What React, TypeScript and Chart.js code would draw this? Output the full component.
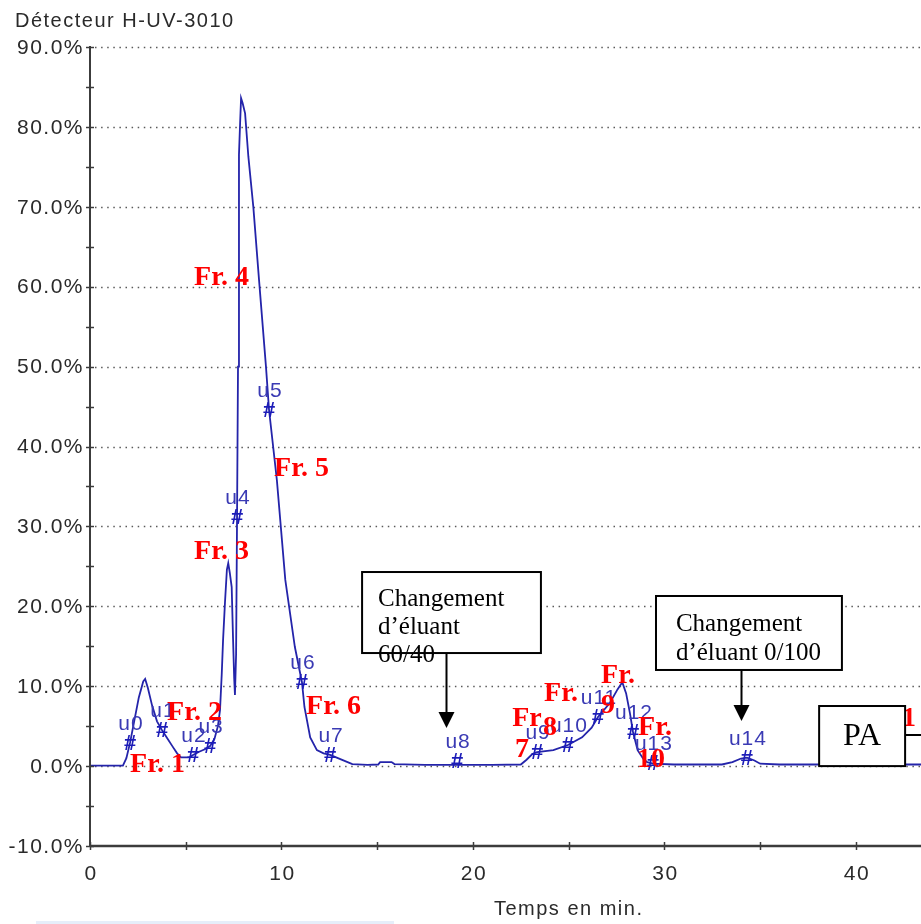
import React, { useEffect, useRef } from 'react';
import { Chart, registerables } from 'chart.js';
Chart.register(...registerables);

// ---- data ----
const timeMin = [0, 1.0, 1.72, 1.9, 2.09, 2.3, 2.55, 2.78, 2.88, 3.02, 3.24, 3.5, 3.76, 4.0, 4.3, 4.55, 4.75, 5.2, 5.38, 5.7, 6.0, 6.27, 6.5, 6.68, 6.79, 6.88, 6.95, 7.05, 7.15, 7.22, 7.3, 7.4, 7.47, 7.53, 7.57, 7.63, 7.68, 7.73, 7.78, 7.84, 7.89, 7.97, 8.1, 8.27, 8.53, 8.83, 9.19, 9.35, 9.76, 10.2, 10.7, 11.07, 11.2, 11.5, 11.85, 12.2, 12.54, 13.2, 13.7, 14.5, 15.05, 15.15, 15.75, 15.9, 17.5, 19.17, 21.0, 22.5, 22.8, 23.1, 23.35, 24.2, 24.96, 25.7, 26.2, 26.53, 27.15, 27.55, 27.8, 28.0, 28.2, 28.36, 28.6, 28.9, 29.1, 29.4, 30.5, 33.0, 33.55, 34.0, 34.31, 34.7, 35.0, 36.0, 43.4];
const signalPct = [0.05, 0.05, 0.05, 1.0, 2.9, 5.5, 8.6, 10.6, 10.9, 9.8, 7.6, 5.6, 4.5, 3.6, 2.5, 1.6, 1.1, 1.1, 1.4, 1.8, 2.1, 2.5, 3.4, 5.0, 7.0, 11.5, 15.8, 20.5, 24.6, 25.4, 24.2, 22.4, 16.0, 11.0, 8.9, 14.0, 31.2, 50.0, 76.5, 80.5, 83.6, 83.0, 81.7, 76.3, 70.0, 60.8, 50.0, 44.6, 35.8, 23.3, 14.9, 10.5, 7.4, 3.6, 2.0, 1.6, 1.4, 0.75, 0.25, 0.15, 0.2, 0.5, 0.5, 0.25, 0.15, 0.15, 0.15, 0.2, 0.8, 1.5, 1.76, 2.0, 2.64, 3.6, 4.8, 6.15, 7.9, 9.6, 10.5, 9.1, 6.6, 4.27, 2.0, 0.9, 0.5, 0.3, 0.2, 0.2, 0.5, 0.95, 1.05, 0.7, 0.3, 0.2, 0.2];

const markerLabels = ['u0', 'u1', 'u2', 'u3', 'u4', 'u5', 'u6', 'u7', 'u8', 'u9', 'u10', 'u11', 'u12', 'u13', 'u14'];
const markerTime = [2.09, 3.76, 5.38, 6.27, 7.68, 9.35, 11.07, 12.54, 19.17, 23.35, 24.96, 26.53, 28.36, 29.4, 34.31];
const markerPct = [2.89, 4.52, 1.39, 2.52, 31.18, 44.57, 10.53, 1.39, 0.6, 1.76, 2.64, 6.15, 4.27, 0.39, 1.0];

const fracLabels = ['Fr. 4', 'Fr. 3', 'Fr. 5', 'Fr. 2', 'Fr. 1', 'Fr. 6', 'Fr', '7', '8', 'Fr.', '9', 'Fr.', 'Fr.', '10', '1'];
const fracTime = [6.87, 6.87, 11.05, 5.46, 3.53, 12.72, 22.82, 22.56, 24.02, 24.6, 27.05, 27.58, 29.51, 29.3, 42.77];
const fracPct = [61.3, 26.9, 37.3, 6.83, 0.26, 7.52, 6.02, 2.14, 4.89, 9.14, 7.65, 11.4, 4.89, 0.89, 6.02];

const yTickValues = [-10, 0, 10, 20, 30, 40, 50, 60, 70, 80, 90];
const yMinorValues = [-5, 5, 15, 25, 35, 45, 55, 65, 75, 85];
const gridValues = [0, 10, 20, 30, 40, 50, 60, 70, 80, 90];
const xTickValues = [0, 10, 20, 30, 40];
const xMinorValues = [5, 15, 25, 35];

const titleText = 'Détecteur H-UV-3010';
const xAxisTitle = 'Temps en min.';

// annotation boxes (in data units: minutes / %)
const boxes = [
  { l: 14.21, r: 23.55, t: 24.29, b: 14.15, lines: ['Changement', 'd\u2019éluant', '60/40'], tx: 15.04, ty: [20.91, 17.41, 13.9], arrowX: 18.59, arrowTip: 4.77 },
  { l: 29.56, r: 39.27, t: 21.29, b: 12.03, lines: ['Changement', 'd\u2019éluant 0/100'], tx: 30.6, ty: [17.78, 14.16], arrowX: 34.0, arrowTip: 5.64 },
];
const paBox = { l: 38.08, r: 42.57, t: 7.52, b: 0.0, text: 'PA', cx: 40.32, cy: 3.64, lineY: 3.89 };

const SANS = '"Liberation Sans", Arial, sans-serif';
const SERIF = '"Liberation Serif", "Times New Roman", serif';

const drawPlugin = {
  id: 'chromDraw',
  beforeDatasetsDraw(chart: any) {
    const { ctx, chartArea, scales } = chart;
    const y = scales.y;
    ctx.save();
    ctx.strokeStyle = '#5a5a5a';
    ctx.lineWidth = 1.3;
    ctx.setLineDash([1.5, 4.6]);
    for (const v of gridValues) {
      const py = Math.round(y.getPixelForValue(v)) + 0.5;
      ctx.beginPath();
      ctx.moveTo(chartArea.left + 5, py);
      ctx.lineTo(chartArea.right, py);
      ctx.stroke();
    }
    ctx.restore();
  },
  afterDatasetsDraw(chart: any) {
    const { ctx, chartArea, scales } = chart;
    const x = scales.x;
    const y = scales.y;
    const X = (v: number) => x.getPixelForValue(v);
    const Y = (v: number) => y.getPixelForValue(v);
    ctx.save();

    // axes
    ctx.strokeStyle = '#3c3c3c';
    ctx.lineWidth = 2;
    ctx.beginPath();
    ctx.moveTo(chartArea.left, chartArea.top - 1);
    ctx.lineTo(chartArea.left, chartArea.bottom);
    ctx.stroke();
    ctx.lineWidth = 2.5;
    ctx.beginPath();
    ctx.moveTo(chartArea.left, chartArea.bottom);
    ctx.lineTo(chartArea.right, chartArea.bottom);
    ctx.stroke();

    // ticks
    ctx.lineWidth = 1.5;
    for (const v of [...yTickValues, ...yMinorValues]) {
      const py = Math.round(Y(v)) + 0.5;
      ctx.beginPath();
      ctx.moveTo(chartArea.left - 4, py);
      ctx.lineTo(chartArea.left + 4, py);
      ctx.stroke();
    }
    for (const v of [...xTickValues, ...xMinorValues]) {
      const px = Math.round(X(v)) + 0.5;
      ctx.beginPath();
      ctx.moveTo(px, chartArea.bottom - 4);
      ctx.lineTo(px, chartArea.bottom + 4);
      ctx.stroke();
    }

    // tick labels
    (ctx as any).letterSpacing = '1.5px';
    ctx.fillStyle = '#2a2a2a';
    ctx.font = `21px ${SANS}`;
    ctx.textAlign = 'right';
    ctx.textBaseline = 'middle';
    for (const v of yTickValues) {
      ctx.fillText(v.toFixed(1) + '%', chartArea.left - 6, Y(v) + 1);
    }
    ctx.textAlign = 'center';
    for (const v of xTickValues) {
      ctx.fillText(String(v), X(v) + 1, chartArea.bottom + 28);
    }
    ctx.font = `20px ${SANS}`;
    ctx.textAlign = 'left';
    ctx.textBaseline = 'alphabetic';
    ctx.fillText(titleText, 15, 27);
    ctx.textAlign = 'center';
    ctx.fillText(xAxisTitle, X(25), 915);

    // markers
    for (let i = 0; i < markerTime.length; i++) {
      const px = X(markerTime[i]);
      const py = Y(markerPct[i]);
      ctx.fillStyle = '#1c1cb8';
      ctx.font = `bold 22px ${SANS}`;
      (ctx as any).letterSpacing = '0px';
      ctx.textAlign = 'center';
      ctx.textBaseline = 'middle';
      ctx.fillText('#', px, py + 1);
      ctx.font = `21px ${SANS}`;
      (ctx as any).letterSpacing = '1px';
      ctx.fillStyle = '#3a3ab4';
      ctx.fillText(markerLabels[i], px + 1, py - 19);
    }
    (ctx as any).letterSpacing = '0px';

    // annotation boxes
    for (const b of boxes) {
      const l = X(b.l), r = X(b.r), t = Y(b.t), bo = Y(b.b);
      ctx.fillStyle = '#ffffff';
      ctx.fillRect(l, t, r - l, bo - t);
      ctx.strokeStyle = '#000';
      ctx.lineWidth = 2;
      ctx.strokeRect(l, t, r - l, bo - t);
      ctx.fillStyle = '#000';
      ctx.font = `25px ${SERIF}`;
      ctx.textAlign = 'left';
      ctx.textBaseline = 'middle';
      b.lines.forEach((ln, i) => ctx.fillText(ln, X(b.tx), Y(b.ty[i])));
      // arrow
      const ax = Math.round(X(b.arrowX)) + 0.5;
      const tip = Y(b.arrowTip);
      ctx.beginPath();
      ctx.moveTo(ax, bo);
      ctx.lineTo(ax, tip - 12);
      ctx.stroke();
      ctx.beginPath();
      ctx.moveTo(ax - 8, tip - 16);
      ctx.lineTo(ax + 8, tip - 16);
      ctx.lineTo(ax, tip);
      ctx.closePath();
      ctx.fill();
    }

    // red fraction labels
    ctx.fillStyle = '#ff0000';
    ctx.font = `bold 28px ${SERIF}`;
    ctx.textAlign = 'center';
    ctx.textBaseline = 'middle';
    for (let i = 0; i < fracLabels.length; i++) {
      ctx.fillText(fracLabels[i], X(fracTime[i]), Y(fracPct[i]) + 1);
    }

    // PA box
    {
      const l = X(paBox.l), r = X(paBox.r), t = Y(paBox.t), bo = Y(paBox.b);
      ctx.fillStyle = '#fff';
      ctx.fillRect(l, t, r - l, bo - t);
      ctx.strokeStyle = '#000';
      ctx.lineWidth = 2;
      ctx.strokeRect(l, t, r - l, bo - t);
      ctx.beginPath();
      ctx.moveTo(r, Y(paBox.lineY));
      ctx.lineTo(chartArea.right + 2, Y(paBox.lineY));
      ctx.stroke();
      ctx.fillStyle = '#000';
      ctx.font = `32px ${SERIF}`;
      ctx.textAlign = 'center';
      ctx.textBaseline = 'middle';
      ctx.fillText(paBox.text, X(paBox.cx), Y(paBox.cy));
    }

    // light strip at the bottom
    ctx.fillStyle = '#e6eefa';
    ctx.fillRect(36, 921, 358, 3);
    ctx.restore();
  },
};

export default function App() {
  const ref = useRef<HTMLCanvasElement | null>(null);
  useEffect(() => {
    if (!ref.current) return;
    const chart = new Chart(ref.current, {
      type: 'scatter',
      data: {
        datasets: [
          {
            data: timeMin.map((t, i) => ({ x: t, y: signalPct[i] })),
            showLine: true,
            pointRadius: 0,
            borderColor: '#2424aa',
            borderWidth: 1.8,
            tension: 0,
          },
        ],
      },
      options: {
        animation: false,
        responsive: false,
        devicePixelRatio: 1,
        layout: { padding: { left: 90, top: 47, right: 0, bottom: 78 } },
        scales: {
          x: { type: 'linear', min: 0, max: 43.4, display: false },
          y: { type: 'linear', min: -10, max: 90, display: false },
        },
        plugins: { legend: { display: false }, tooltip: { enabled: false } },
      } as any,
      plugins: [drawPlugin],
    });
    return () => chart.destroy();
  }, []);
  return (
    <div style={{ position: 'absolute', left: 0, top: 0, width: 921, height: 924, background: '#fff' }}>
      <canvas ref={ref} width={921} height={924} style={{ display: 'block' }} />
    </div>
  );
}
